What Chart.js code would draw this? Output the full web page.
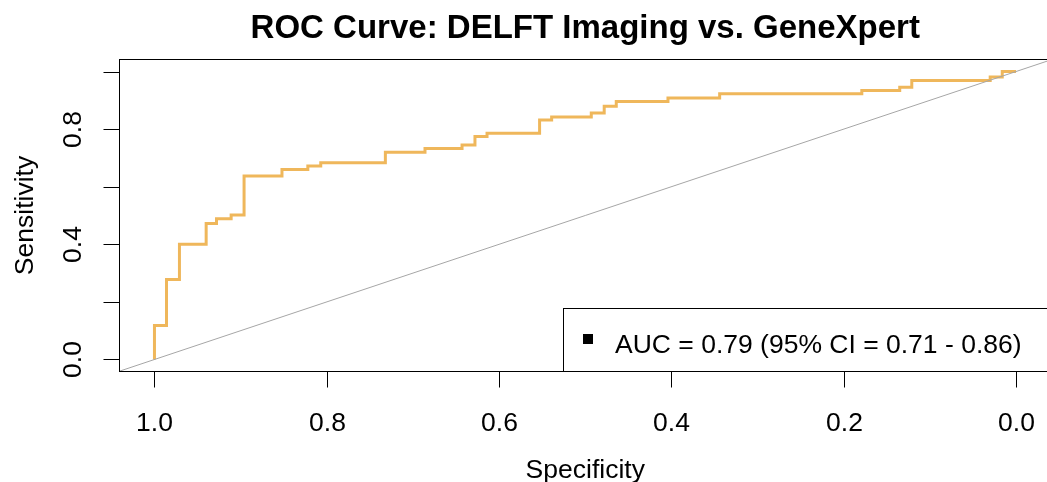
<!DOCTYPE html>
<html>
<head>
<meta charset="utf-8">
<script src="https://cdn.jsdelivr.net/npm/chart.js@4/dist/chart.umd.min.js"></script>
<style>
  html, body { margin: 0; padding: 0; background: #fff; overflow: hidden; }
  #wrap { position: relative; width: 1060px; height: 482px; }
</style>
</head>
<body>
<div id="wrap"><canvas id="roc"></canvas></div>
<script>
// ---------- data ----------
// ROC steps: each point is where a horizontal run ends at that sensitivity level
const specificity = [1.0, 0.986, 0.971, 0.940, 0.928, 0.911, 0.896, 0.852, 0.822, 0.807,
  0.732, 0.686, 0.643, 0.628, 0.614, 0.553, 0.539, 0.493, 0.478, 0.464,
  0.404, 0.344, 0.179, 0.135, 0.121, 0.030, 0.016, 0.0];
const sensitivity = [0.0, 0.118, 0.278, 0.400, 0.472, 0.489, 0.502, 0.637, 0.660, 0.672,
  0.683, 0.720, 0.733, 0.745, 0.774, 0.786, 0.832, 0.842, 0.856, 0.879,
  0.896, 0.908, 0.923, 0.934, 0.945, 0.969, 0.981, 1.0];

const xTicks = [1.0, 0.8, 0.6, 0.4, 0.2, 0.0];
const yTicks = [0.0, 0.2, 0.4, 0.6, 0.8, 1.0];
const yTickLabels = ['0.0', '', '0.4', '', '0.8', ''];

const titleText = 'ROC Curve: DELFT Imaging vs. GeneXpert';
const xTitle = 'Specificity';
const yTitle = 'Sensitivity';
const legendText = 'AUC = 0.79 (95% CI = 0.71 - 0.86)';

const axisMin = -0.04, axisMax = 1.04;

// ---------- chart ----------
const FONT = '"Liberation Sans", Arial, sans-serif';

const rocPoints = specificity.map((s, i) => ({ x: s, y: sensitivity[i] }));
const chancePoints = [axisMin, axisMax].map(v => ({ x: v, y: 1 - v }));

const rFrame = {
  id: 'rFrame',
  afterDraw(chart) {
    const { ctx, chartArea: a, scales: { x, y } } = chart;
    ctx.save();
    ctx.strokeStyle = '#000';
    ctx.lineWidth = 1;
    const L = Math.round(a.left) - 0.5, T = Math.round(a.top) - 0.5;
    const R = Math.round(a.right) + 0.5, B = Math.round(a.bottom) + 0.5;
    ctx.strokeRect(L, T, R - L, B - T);

    ctx.fillStyle = '#000';
    ctx.font = `26.5px ${FONT}`;

    // x axis ticks + labels
    ctx.textAlign = 'center';
    ctx.textBaseline = 'alphabetic';
    xTicks.forEach(v => {
      const px = Math.round(x.getPixelForValue(v)) + 0.5;
      ctx.beginPath(); ctx.moveTo(px, B); ctx.lineTo(px, B + 16); ctx.stroke();
      ctx.fillText(v.toFixed(1), px, 431);
    });

    // y axis ticks + rotated labels
    yTicks.forEach((v, i) => {
      const py = Math.round(y.getPixelForValue(v)) + 0.5;
      ctx.beginPath(); ctx.moveTo(L, py); ctx.lineTo(L - 16, py); ctx.stroke();
      if (yTickLabels[i]) {
        ctx.save();
        ctx.translate(81, py);
        ctx.rotate(-Math.PI / 2);
        ctx.fillText(yTickLabels[i], 0, 0);
        ctx.restore();
      }
    });

    // axis titles
    const cx = (a.left + a.right) / 2;
    ctx.fillText(xTitle, cx, 478);
    ctx.save();
    ctx.translate(33, (a.top + a.bottom) / 2);
    ctx.rotate(-Math.PI / 2);
    ctx.fillText(yTitle, 0, 0);
    ctx.restore();

    // main title
    ctx.font = `bold 33px ${FONT}`;
    ctx.fillText(titleText, cx, 38);

    // legend box
    ctx.fillStyle = '#fff';
    ctx.fillRect(563.5, 308.5, 600, B - 308.5);
    ctx.strokeRect(563.5, 308.5, 600, B - 308.5);
    ctx.fillStyle = '#000';
    ctx.fillRect(583, 334, 10, 10);
    ctx.font = `26.5px ${FONT}`;
    ctx.textAlign = 'left';
    ctx.fillText(legendText, 615, 353);
    ctx.restore();
  }
};

new Chart(document.getElementById('roc'), {
  type: 'line',
  data: {
    datasets: [
      {
        label: 'chance',
        data: chancePoints,
        borderColor: '#a6a6a6',
        borderWidth: 1,
        pointRadius: 0,
        fill: false
      },
      {
        label: 'ROC',
        data: rocPoints,
        stepped: 'after',
        borderColor: '#efb75b',
        borderWidth: 3,
        pointRadius: 0,
        fill: false
      }
    ]
  },
  options: {
    responsive: true,
    maintainAspectRatio: false,
    animation: false,
    events: [],
    layout: { padding: { left: 120, right: 9.5, top: 60, bottom: 111 } },
    plugins: { legend: { display: false }, tooltip: { enabled: false }, title: { display: false } },
    scales: {
      x: { type: 'linear', reverse: true, min: axisMin, max: axisMax, display: false },
      y: { type: 'linear', min: axisMin, max: axisMax, display: false }
    }
  },
  plugins: [rFrame]
});
</script>
</body>
</html>
